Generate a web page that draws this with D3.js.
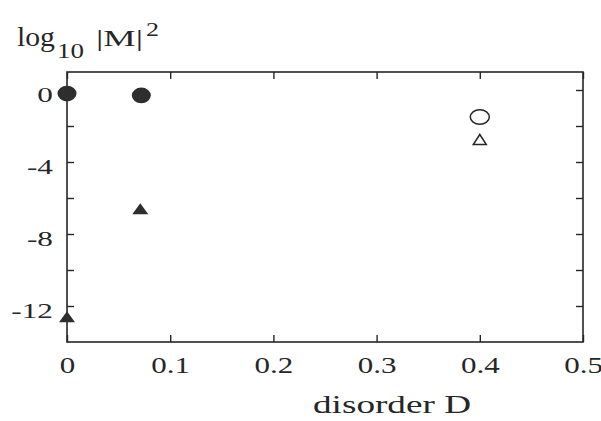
<!DOCTYPE html>
<html>
<head>
<meta charset="utf-8">
<script src="https://cdn.jsdelivr.net/npm/d3@7/dist/d3.min.js"></script>
<style>
  html, body { margin: 0; padding: 0; background: #ffffff; }
  svg { display: block; }
  svg text { font-family: "Liberation Serif", "Times New Roman", "DejaVu Serif", serif; }
</style>
</head>
<body>
<svg id="chart" width="601" height="421"></svg>
<script>
// ---- data ----
const xTicks = [0, 0.1, 0.2, 0.3, 0.4, 0.5];
const xTickLabels = ["0", "0.1", "0.2", "0.3", "0.4", "0.5"];
const yMajorTicks = [0, -2, -4, -6, -8, -10, -12];
const yLabelTicks = [0, -4, -8, -12];
const yTickLabels = ["0", "-4", "-8", "-12"];

const filledCircleX = [0, 0.072];
const filledCircleY = [-0.2, -0.3];
const filledTriangleX = [0, 0.071];
const filledTriangleY = [-12.6, -6.6];
const openCircleX = [0.4];
const openCircleY = [-1.5];
const openTriangleX = [0.4];
const openTriangleY = [-2.75];

const xLabel = "disorder D";

// ---- layout ----
const svg = d3.select("#chart");
const padL = 67, padR = 583, padT = 72, padB = 342;
const x = d3.scaleLinear().domain([0, 0.5]).range([padL, padR]);
const y = d3.scaleLinear().domain([-14, 1]).range([padB, padT]);
const ink = "#262626";
const FONT = "'Liberation Serif', 'Times New Roman', 'DejaVu Serif', serif";

// width of a label as it appears in the original (Times-like, widened)
function labelLen(s, em) {
  let w = 0;
  for (const c of s) w += (c === "." ? 0.25 : c === "-" ? 0.333 : 0.5);
  return w * em * 1.24;
}

// frame
svg.append("rect")
  .attr("x", padL).attr("y", padT)
  .attr("width", padR - padL).attr("height", padB - padT)
  .attr("fill", "none").attr("stroke", ink).attr("stroke-width", 1.6);

const tickLen = 7;
function styleAxis(g) {
  g.select(".domain").remove();
  g.attr("font-family", FONT);
  g.selectAll(".tick line").attr("stroke", ink).attr("stroke-width", 1.4);
}

// bottom axis (labels)
const gxB = svg.append("g").attr("transform", `translate(0,${padB})`)
  .call(d3.axisBottom(x).tickValues(xTicks).tickSizeInner(-tickLen).tickSizeOuter(0)
    .tickFormat((d, i) => xTickLabels[i]));
styleAxis(gxB);
gxB.selectAll(".tick text")
  .attr("fill", ink).attr("font-size", 23)
  .attr("font-family", FONT)
  .attr("y", 31).attr("dy", 0)
  .attr("textLength", (d, i) => labelLen(xTickLabels[i], 25))
  .attr("lengthAdjust", "spacingAndGlyphs");

// top axis (ticks only)
const gxT = svg.append("g").attr("transform", `translate(0,${padT})`)
  .call(d3.axisTop(x).tickValues(xTicks).tickSizeInner(-tickLen).tickSizeOuter(0).tickFormat(""));
styleAxis(gxT);

// left axis ticks
const gyL = svg.append("g").attr("transform", `translate(${padL},0)`)
  .call(d3.axisLeft(y).tickValues(yMajorTicks).tickSizeInner(-tickLen).tickSizeOuter(0).tickFormat(""));
styleAxis(gyL);
// right axis ticks
const gyR = svg.append("g").attr("transform", `translate(${padR},0)`)
  .call(d3.axisRight(y).tickValues(yMajorTicks).tickSizeInner(-tickLen).tickSizeOuter(0).tickFormat(""));
styleAxis(gyR);

// y labels
svg.append("g").selectAll("text").data(yLabelTicks).join("text")
  .attr("text-anchor", "end")
  .attr("font-size", 22)
  .attr("font-family", FONT)
  .attr("fill", ink)
  .attr("x", 53).attr("y", d => y(d) + 12)
  .attr("textLength", (d, i) => labelLen(yTickLabels[i], 24) * 1.05)
  .attr("lengthAdjust", "spacingAndGlyphs")
  .text((d, i) => yTickLabels[i]);

// x axis title
svg.append("text")
  .attr("x", 313).attr("y", 413)
  .attr("font-size", 26)
  .attr("font-family", FONT)
  .attr("textLength", 158).attr("lengthAdjust", "spacingAndGlyphs")
  .attr("fill", ink)
  .text(xLabel);

// y axis title: log10 |M|^2
const yt = svg.append("g").attr("fill", ink).attr("font-family", FONT);
yt.append("text").attr("x", 17).attr("y", 46).attr("font-size", 27)
  .attr("textLength", 38).attr("lengthAdjust", "spacingAndGlyphs").text("log");
yt.append("text").attr("x", 57).attr("y", 58).attr("font-size", 20)
  .attr("textLength", 27).attr("lengthAdjust", "spacingAndGlyphs").text("10");
yt.append("text").attr("x", 96).attr("y", 46).attr("font-size", 23)
  .attr("textLength", 47).attr("lengthAdjust", "spacingAndGlyphs").text("|M|");
yt.append("text").attr("x", 146).attr("y", 36).attr("font-size", 18)
  .attr("textLength", 13).attr("lengthAdjust", "spacingAndGlyphs").text("2");

// marks
function tri(w, h) {
  return `M0,${-h / 2}L${w / 2},${h / 2}L${-w / 2},${h / 2}Z`;
}
const marks = svg.append("g");
marks.selectAll("ellipse.fc").data(d3.zip(filledCircleX, filledCircleY)).join("ellipse")
  .attr("class", "fc")
  .attr("cx", d => x(d[0])).attr("cy", d => y(d[1]))
  .attr("rx", 9.5).attr("ry", 7.8)
  .attr("fill", "#2e2e2e");
marks.selectAll("path.ft").data(d3.zip(filledTriangleX, filledTriangleY)).join("path")
  .attr("class", "ft")
  .attr("d", tri(16, 11))
  .attr("transform", d => `translate(${x(d[0])},${y(d[1])})`)
  .attr("fill", "#2e2e2e");
marks.selectAll("ellipse.oc").data(d3.zip(openCircleX, openCircleY)).join("ellipse")
  .attr("class", "oc")
  .attr("cx", d => x(d[0])).attr("cy", d => y(d[1]))
  .attr("rx", 9.5).attr("ry", 7.3)
  .attr("fill", "none").attr("stroke", ink).attr("stroke-width", 1.5);
marks.selectAll("path.ot").data(d3.zip(openTriangleX, openTriangleY)).join("path")
  .attr("class", "ot")
  .attr("d", tri(13, 10))
  .attr("transform", d => `translate(${x(d[0])},${y(d[1])})`)
  .attr("fill", "none").attr("stroke", ink).attr("stroke-width", 1.5);
</script>
</body>
</html>
